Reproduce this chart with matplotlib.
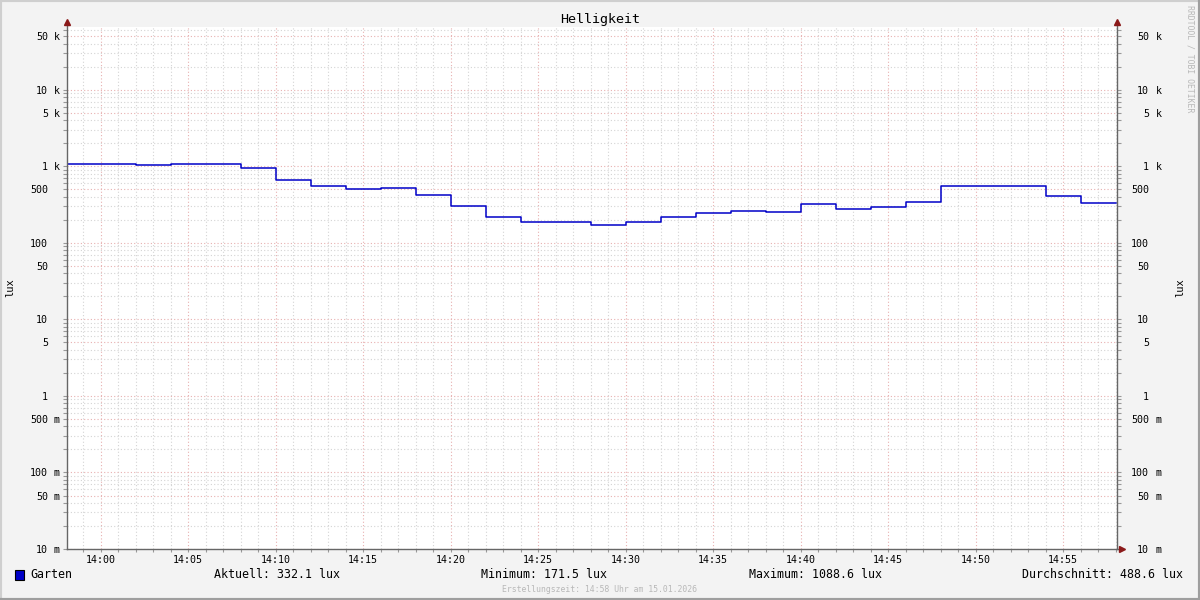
import numpy as np
import matplotlib
matplotlib.use('Agg')
import matplotlib.pyplot as plt
import matplotlib.dates as mdates
from matplotlib.lines import Line2D
from matplotlib.patches import Rectangle
from matplotlib.ticker import FixedLocator, LogLocator, NullFormatter

plt.rcParams['font.family'] = ['DejaVu Sans Mono', 'DejaVu Sans']

# 2-minute samples starting 13:58 (value holds until the next sample)
lux = [1088.6, 1062, 1030, 1088, 1085, 942, 662, 548, 500, 525,
       418, 300, 216, 187, 185, 171.5, 185, 216, 243, 258,
       250, 322, 274, 291, 341, 548, 548, 548, 405, 332.1]
t_first = np.datetime64('2026-01-15T13:58')
step = np.timedelta64(2, 'm')

y_ticks = [0.01, 0.05, 0.1, 0.5, 1, 5, 10, 50, 100, 500, 1000, 5000, 10000, 50000]
y_nums = ['10', '50', '100', '500', '1', '5', '10', '50', '100', '500', '1', '5', '10', '50']
y_units = ['m', 'm', 'm', 'm', '', '', '', '', '', '', 'k', 'k', 'k', 'k']

legend_name = 'Garten'
stats = ['Aktuell: 332.1 lux', 'Minimum: 171.5 lux',
         'Maximum: 1088.6 lux', 'Durchschnitt: 488.6 lux']

times = t_first + step * np.arange(len(lux) + 1)
vals = lux + [lux[-1]]
x = mdates.date2num(times)

fig = plt.figure(figsize=(12, 6), dpi=100, facecolor='#f3f3f3')
W, H = 1200, 600
L, R, T, B = 67, 1117, 27, 549
ax = fig.add_axes([L / W, 1 - B / H, (R - L) / W, (B - T) / H])
ax.set_facecolor('white')

ax.step(x, vals, where='post', color='#0000c8', lw=1.1, zorder=3)

ax.set_yscale('log')
ax.set_ylim(0.01, 66400)
ax.set_xlim(mdates.date2num(np.datetime64('2026-01-15T13:58:05')),
            mdates.date2num(np.datetime64('2026-01-15T14:58:05')))

ax.yaxis.set_major_locator(FixedLocator(y_ticks))
ax.yaxis.set_minor_locator(LogLocator(base=10, subs=(2, 3, 4, 6, 7, 8, 9), numticks=30))
ax.yaxis.set_minor_formatter(NullFormatter())
ax.xaxis.set_major_locator(mdates.MinuteLocator(byminute=range(0, 60, 5)))
ax.xaxis.set_minor_locator(mdates.MinuteLocator())
ax.xaxis.set_major_formatter(mdates.DateFormatter('%H:%M'))

dot = (0, (1, 2))
ax.grid(which='minor', color='#d4d4d4', linestyle=dot, lw=0.8)
ax.grid(which='major', color='#e8b0b0', linestyle=dot, lw=0.8)

for s in ax.spines.values():
    s.set_visible(False)

ax.tick_params(axis='y', which='both', left=True, right=True, labelleft=False,
               length=3, color='#999999', width=0.8)
ax.tick_params(axis='x', which='both', length=2, color='#999999', width=0.8,
               labelsize=7.2, pad=2)

axis_col = '#666666'
ext_top = 1 + 5 / (B - T)
ext_right = 1 + 5 / (R - L)
for xx in (0, 1):
    ax.add_line(Line2D([xx, xx], [0, ext_top], transform=ax.transAxes,
                       color=axis_col, lw=1, clip_on=False, zorder=4))
    ax.plot([xx], [ext_top], marker='^', color='#8b1a1a', ms=4,
            transform=ax.transAxes, clip_on=False, zorder=5)
ax.add_line(Line2D([0, ext_right], [0, 0], transform=ax.transAxes,
                   color=axis_col, lw=1, clip_on=False, zorder=4))
ax.plot([ext_right], [0], marker='>', color='#8b1a1a', ms=4,
        transform=ax.transAxes, clip_on=False, zorder=5)

# y tick labels: number right-aligned, unit after it, on both sides
ytr = ax.get_yaxis_transform()
for v, n, u in zip(y_ticks, y_nums, y_units):
    for xn, xu in (((48 - L) / (R - L), (54 - L) / (R - L)),
                   ((1149 - L) / (R - L), (1156 - L) / (R - L))):
        ax.text(xn, v, n, transform=ytr, ha='right', va='center_baseline', fontsize=7.2)
        if u:
            ax.text(xu, v, u, transform=ytr, ha='left', va='center_baseline', fontsize=7.2)

fig.text(10 / W, 1 - 288 / H, 'lux', rotation=90, ha='center', va='center', fontsize=7.5)
fig.text(1180 / W, 1 - 288 / H, 'lux', rotation=90, ha='center', va='center', fontsize=7.5)

fig.text(600 / W, 1 - 19 / H, 'Helligkeit', ha='center', va='center', fontsize=9.6)
fig.text(1190 / W, 1 - 5 / H, 'RRDTOOL / TOBI OETIKER', rotation=-90,
         ha='center', va='top', fontsize=5.9, color='#b8b8b8')

# legend row
fig.add_artist(Rectangle((15 / W, 1 - 580 / H), 9 / W, 10 / H, transform=fig.transFigure,
                         facecolor='#0000c8', edgecolor='black', lw=0.8))
fig.text(30 / W, 1 - 575 / H, legend_name, ha='left', va='center', fontsize=8.4)
for txt, xp, ha in zip(stats, [214, 481, 749, 1183], ['left', 'left', 'left', 'right']):
    fig.text(xp / W, 1 - 575 / H, txt, ha=ha, va='center', fontsize=8.4)

fig.text(600 / W, 1 - 589 / H, 'Erstellungszeit: 14:58 Uhr am 15.01.2026',
         ha='center', va='center', fontsize=5.9, color='#b8b8b8')

# 3D frame like rrdtool
for xs, ys, c in (([0, 1], [1, 1], '#cfcfcf'), ([0, 0], [0, 1], '#cfcfcf'),
                  ([0, 1], [0, 0], '#9e9e9e'), ([1, 1], [0, 1], '#9e9e9e')):
    fig.add_artist(Line2D(xs, ys, transform=fig.transFigure, color=c, lw=3))

fig.savefig('out.png', dpi=100, facecolor=fig.get_facecolor())
